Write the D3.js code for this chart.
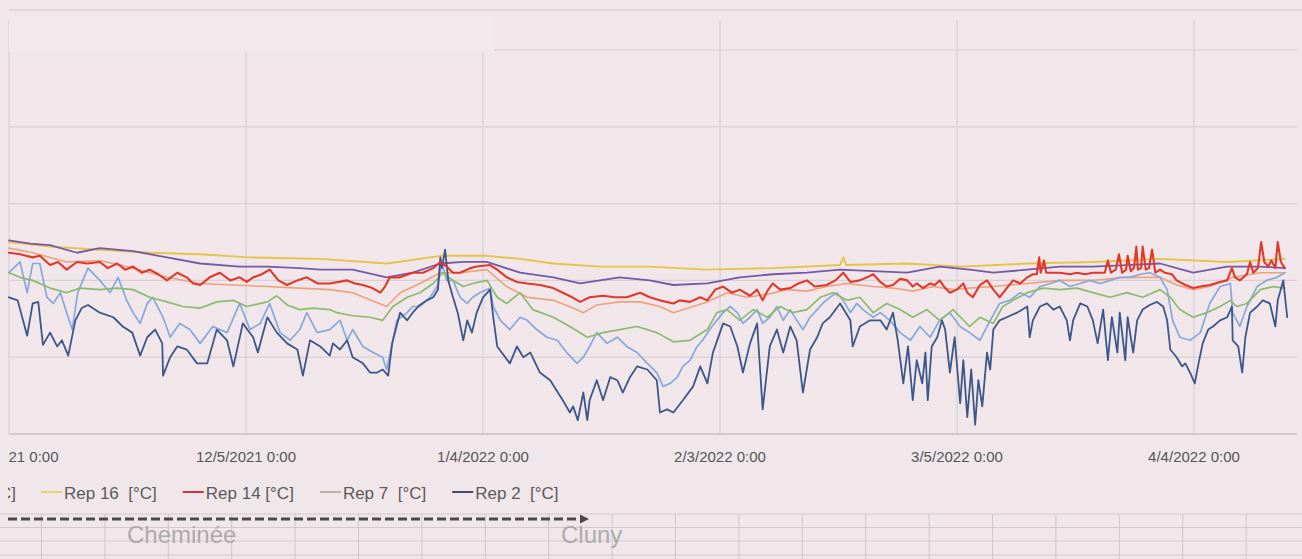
<!DOCTYPE html>
<html><head><meta charset="utf-8">
<script src="https://cdn.jsdelivr.net/npm/d3@7"></script>
<style>html,body{margin:0;padding:0;background:#f1e7eb;overflow:hidden}svg{display:block}text{white-space:pre}</style>
</head><body><svg id="c" width="1302" height="559"></svg>
<script>
// ---------- DATA ----------
const startDay = "2021-11-05";
const tickDates = ["2021-11-05","2021-12-05","2022-01-04","2022-02-03","2022-03-05","2022-04-04"];
const tickLabels = ["11/5/2021 0:00","12/5/2021 0:00","1/4/2022 0:00","2/3/2022 0:00","3/5/2022 0:00","4/4/2022 0:00"];
const yTicks = [0,5,10,15,20,25];
const legendNames = ["Rep 16  [°C]","Rep 14 [°C]","Rep 7  [°C]","Rep 2  [°C]"];
const footLabels = ["Cheminée","Cluny"];

// [days since 2021-11-05, °C]
const rep16 = [[0,12.5],[5.2,12.2],[11.5,12.0],[17.8,11.8],[24.2,11.7],[30.5,11.5],[39.4,11.4],[47.8,11.1],[52.0,11.4],[54.6,11.6],[60.5,11.6],[64.7,11.4],[68.9,11.1],[74.8,10.9],[81.1,10.9],[88.4,10.7],[96.7,10.8],[105.2,11.0],[105.6,11.5],[106.0,11.0],[113.7,11.1],[120.4,10.9],[128.9,11.1],[137.2,11.2],[145.7,11.4],[154.2,11.2],[161.5,11.4]];

const seriesPurple = [[0,12.6],[2.7,12.4],[5.2,12.3],[8.6,11.8],[11.5,12.1],[15.7,11.9],[20.0,11.5],[24.2,11.1],[29.2,10.9],[32.7,10.9],[36.8,10.8],[39.4,10.7],[43.5,10.7],[47.8,10.2],[51.1,10.5],[54.6,11.1],[57.5,11.2],[60.5,11.2],[64.7,10.5],[68.9,10.2],[72.3,9.8],[77.3,10.2],[81.1,10.0],[84.1,9.7],[88.4,9.8],[92.5,10.2],[96.7,10.4],[101.0,10.5],[105.2,10.7],[109.4,10.6],[113.7,10.5],[117.8,10.9],[121.6,10.7],[124.6,10.5],[128.9,10.7],[133.0,10.9],[137.2,10.9],[141.5,11.0],[145.7,11.1],[147.8,10.8],[149.9,10.5],[154.2,10.9],[158.4,10.9],[161.5,10.8]];

const seriesOrange = [[0,12.1],[3.0,11.8],[7.3,11.2],[11.5,11.3],[15.7,10.8],[20.0,10.2],[24.2,9.8],[28.4,9.7],[32.7,9.6],[36.8,9.5],[40.6,9.4],[43.5,9.2],[47.8,8.3],[49.5,9.2],[52.0,9.8],[54.6,10.5],[57.1,10.5],[60.5,10.7],[63.0,9.6],[65.6,8.9],[68.9,8.7],[71.4,8.2],[72.7,7.9],[74.4,8.4],[77.3,8.6],[79.9,8.6],[82.4,8.3],[84.1,7.9],[86.6,8.3],[88.4,8.6],[90.9,9.2],[93.4,8.9],[96.0,9.1],[98.5,9.4],[101.0,9.3],[103.5,9.6],[106.1,9.8],[109.4,9.6],[111.9,9.5],[114.4,9.3],[117.0,9.6],[119.5,9.4],[121.6,9.5],[124.6,9.6],[128.9,9.8],[133.0,10.0],[137.2,10.0],[141.5,10.2],[145.7,10.2],[147.8,9.7],[149.9,9.4],[152.0,9.6],[154.9,10.2],[158.4,10.5],[161.5,10.5]];

const rep14 = [[0,11.8],[1.4,11.7],[3.0,11.5],[3.9,11.6],[5.2,11.0],[6.2,11.2],[7.3,10.7],[8.6,11.2],[9.9,11.1],[11.5,11.2],[12.5,10.8],[13.7,11.1],[14.7,10.7],[15.7,10.9],[16.8,10.5],[17.8,10.7],[18.9,10.4],[20.0,10.0],[21.3,10.5],[22.5,10.2],[23.3,9.8],[24.2,9.7],[25.4,10.2],[26.7,10.5],[28.0,10.0],[29.2,10.2],[30.1,9.9],[30.9,10.2],[32.0,10.4],[33.0,10.7],[34.1,10.0],[35.2,9.7],[36.5,10.0],[37.7,10.2],[39.1,9.8],[40.6,9.8],[42.8,10.0],[43.8,9.8],[44.8,9.7],[46.0,9.5],[47.0,9.2],[47.6,9.6],[48.2,10.2],[49.5,10.2],[51.1,10.5],[52.4,10.5],[53.7,10.8],[54.6,11.2],[55.4,10.9],[56.2,10.5],[57.1,10.5],[58.4,10.8],[59.2,10.9],[60.9,11.0],[61.8,10.7],[63.0,10.2],[64.3,9.9],[65.6,9.8],[67.2,9.7],[68.9,9.5],[70.1,9.2],[71.3,8.9],[72.3,8.6],[73.5,8.9],[75.2,9.0],[76.7,8.9],[78.2,8.9],[79.9,9.2],[81.1,8.9],[82.4,8.7],[84.1,8.5],[84.9,8.7],[86.2,8.6],[87.5,8.9],[88.4,8.7],[89.4,9.4],[90.4,9.6],[91.5,9.2],[92.5,9.4],[93.8,9.0],[94.7,9.4],[95.4,8.7],[96.1,9.4],[96.7,9.8],[97.6,9.4],[98.9,9.5],[99.9,9.8],[101.0,10.0],[102.0,9.6],[103.5,9.7],[104.6,10.0],[105.6,10.5],[106.5,9.9],[107.7,10.0],[108.6,10.2],[109.4,10.4],[110.3,9.9],[111.1,9.6],[111.9,9.7],[112.8,10.1],[113.7,10.0],[114.4,9.6],[114.9,9.8],[115.7,9.5],[116.6,9.8],[117.2,9.7],[117.8,10.0],[118.5,9.5],[119.1,9.2],[120.0,9.4],[120.8,9.8],[121.3,9.2],[122.0,8.9],[122.9,9.7],[123.8,10.0],[124.6,9.4],[125.4,8.9],[126.3,9.5],[127.1,10.0],[128.0,9.8],[128.9,10.2],[129.6,10.4],[130.1,10.4],[130.4,11.5],[130.6,10.5],[131.0,11.3],[131.3,10.5],[132.2,10.5],[133.0,10.5],[134.3,10.4],[135.2,10.5],[136.2,10.4],[137.2,10.5],[138.1,10.5],[138.7,10.5],[139.1,11.3],[139.5,10.5],[140.1,10.7],[140.5,11.7],[140.9,10.5],[141.4,10.7],[141.6,11.6],[142.0,10.6],[142.4,10.8],[142.7,12.2],[142.9,10.7],[143.3,10.8],[143.5,12.2],[143.9,10.7],[144.3,10.8],[144.7,12.0],[145.1,10.5],[145.7,10.7],[146.3,10.5],[147.2,10.4],[147.8,10.0],[148.9,9.7],[149.9,9.5],[150.8,9.6],[152.0,9.7],[153.3,9.9],[154.2,10.0],[154.8,10.8],[155.2,10.2],[155.8,10.0],[156.7,10.4],[157.1,11.2],[157.5,10.5],[158.1,10.8],[158.5,12.5],[158.9,11.2],[159.4,10.9],[159.8,11.3],[160.3,10.8],[160.6,12.5],[161.0,11.2],[161.5,10.8]];

const rep7 = [[0,10.5],[1.4,10.2],[3.0,10.0],[5.2,9.5],[7.3,9.2],[9.0,9.5],[11.5,9.4],[13.7,9.5],[15.7,9.4],[17.8,8.9],[20.0,8.6],[22.0,8.3],[24.2,8.2],[26.3,8.6],[28.4,8.7],[30.1,8.3],[32.7,8.6],[33.9,9.0],[35.2,8.4],[36.8,8.1],[38.5,8.2],[40.6,8.1],[41.5,7.9],[43.5,7.7],[45.7,7.6],[47.3,7.4],[48.6,8.3],[50.4,8.9],[52.0,9.2],[53.7,9.8],[54.9,10.5],[56.2,10.0],[57.5,9.6],[58.7,9.8],[60.5,10.0],[61.8,8.9],[63.0,8.5],[64.7,9.2],[66.3,8.1],[68.9,7.6],[71.0,7.0],[73.2,6.3],[75.2,6.6],[77.3,6.8],[79.5,7.0],[82.0,6.6],[84.1,6.0],[86.2,6.1],[88.4,6.8],[89.6,7.9],[90.9,8.1],[92.5,7.4],[94.2,8.1],[96.0,7.6],[97.6,8.3],[99.2,7.9],[101.0,8.1],[102.7,8.9],[104.3,9.2],[106.1,8.7],[107.7,8.9],[109.4,7.9],[111.1,8.5],[112.8,8.1],[114.4,7.6],[116.2,8.1],[117.8,7.4],[119.5,8.1],[121.6,7.0],[122.9,7.6],[124.6,7.2],[125.8,8.3],[127.1,8.7],[128.9,9.2],[130.9,9.5],[133.0,9.4],[135.2,9.5],[137.2,9.2],[139.4,8.9],[141.5,9.2],[143.5,8.9],[145.7,9.4],[147.0,8.9],[148.2,8.1],[149.9,7.6],[151.6,7.9],[153.3,8.3],[154.6,8.7],[155.4,8.3],[156.7,8.5],[158.4,9.4],[160.0,9.6],[161.5,9.5]];

const seriesLightBlue = [[0,10.5],[1.4,11.2],[2.3,9.2],[3.0,11.1],[3.9,11.1],[4.8,8.9],[5.6,8.5],[6.5,9.2],[7.3,7.9],[8.0,6.8],[8.7,9.2],[10.0,10.8],[11.5,10.0],[12.8,9.2],[13.8,10.2],[14.9,8.7],[15.7,7.9],[16.6,7.2],[17.5,8.5],[18.2,8.9],[19.5,7.6],[20.4,6.3],[21.6,7.2],[22.9,6.8],[24.2,5.9],[25.8,7.0],[27.6,6.6],[29.2,8.5],[30.5,6.8],[31.8,7.2],[33.0,8.5],[34.3,6.6],[35.6,6.1],[36.8,6.8],[37.7,7.9],[39.0,6.6],[40.6,6.8],[41.9,7.4],[42.8,6.1],[43.5,6.8],[44.8,5.7],[46.1,5.3],[47.3,5.0],[47.8,4.2],[48.5,5.9],[49.1,7.4],[50.4,7.9],[51.1,8.3],[52.0,8.3],[53.3,8.9],[54.2,9.6],[54.8,11.1],[55.4,10.0],[56.2,10.0],[57.1,8.9],[58.0,8.5],[58.7,8.9],[59.6,9.2],[60.9,9.5],[61.3,8.3],[62.2,7.4],[63.4,6.8],[64.7,7.6],[65.6,7.4],[66.8,6.8],[68.1,6.3],[69.4,6.1],[70.6,5.3],[71.9,4.6],[72.7,5.0],[73.5,5.7],[74.4,6.6],[75.7,5.9],[77.0,6.3],[78.2,5.7],[79.5,5.3],[80.8,4.6],[82.0,4.0],[82.8,3.1],[83.7,3.3],[84.6,3.7],[85.3,4.4],[86.2,4.8],[87.1,5.7],[87.8,6.1],[88.7,6.8],[89.6,7.4],[90.4,7.9],[91.3,8.3],[92.2,7.9],[92.9,7.2],[93.8,7.6],[94.7,8.1],[95.4,7.2],[96.3,7.6],[97.2,8.3],[98.0,7.4],[98.9,8.1],[99.7,7.4],[100.5,6.8],[101.4,7.6],[102.3,8.1],[103.0,8.5],[103.9,8.9],[104.8,9.2],[105.6,8.7],[106.5,7.9],[107.3,8.5],[108.1,8.1],[109.4,7.6],[110.3,7.9],[111.5,7.4],[112.8,6.6],[114.1,6.1],[115.3,7.0],[116.6,6.3],[117.8,7.4],[119.1,7.9],[120.4,7.0],[121.6,6.6],[122.9,6.1],[124.2,7.4],[125.4,8.5],[126.7,8.7],[128.0,9.2],[129.2,8.9],[130.5,9.6],[131.8,9.8],[133.0,10.0],[134.3,9.6],[135.6,9.8],[136.8,10.0],[138.1,9.8],[139.4,10.0],[140.6,10.2],[141.9,10.2],[143.2,10.4],[144.4,10.5],[145.7,10.2],[146.6,9.4],[147.3,7.4],[148.2,6.3],[149.5,6.1],[150.8,6.6],[152.0,8.5],[153.3,9.6],[154.6,9.8],[154.9,7.9],[155.8,7.0],[156.7,8.3],[158.0,9.6],[159.2,10.0],[160.5,10.2],[161.5,10.5]];

const rep2 = [[0,8.9],[1.1,8.7],[2.3,6.4],[3.0,8.5],[3.7,8.6],[4.3,5.8],[5.2,6.6],[6.1,5.7],[6.7,6.1],[7.5,5.1],[8.4,7.4],[9.2,8.2],[10.0,8.4],[11.5,7.9],[13.2,7.6],[14.4,7.0],[15.6,6.6],[16.6,5.1],[17.5,6.3],[18.5,6.8],[19.4,5.9],[19.5,3.8],[20.4,5.0],[21.3,5.7],[22.5,5.5],[23.8,4.6],[25.1,4.6],[26.3,6.8],[27.6,6.1],[28.4,4.4],[29.6,7.2],[30.9,6.3],[31.5,5.3],[32.7,7.6],[33.9,6.6],[35.2,5.9],[36.5,5.5],[37.2,3.8],[38.1,6.1],[39.4,5.7],[40.6,5.1],[41.0,5.9],[41.9,5.5],[42.8,6.1],[43.5,5.0],[44.8,4.6],[45.7,4.0],[46.6,4.0],[47.3,4.2],[48.0,3.8],[48.5,5.9],[49.5,7.9],[50.4,7.4],[51.1,7.9],[52.0,8.4],[52.9,8.7],[53.7,8.9],[54.3,9.4],[54.6,11.5],[54.8,10.8],[55.2,12.0],[55.6,10.0],[56.2,8.9],[56.8,7.9],[57.5,6.1],[58.0,7.4],[58.6,6.6],[59.2,7.9],[60.0,8.9],[60.9,9.4],[61.3,7.6],[61.8,5.7],[63.4,4.6],[64.3,5.7],[65.1,5.0],[66.0,5.3],[67.2,4.0],[68.5,3.5],[70.1,2.2],[71.0,1.4],[71.4,1.8],[72.0,0.9],[72.7,2.7],[73.2,0.9],[73.5,2.2],[74.4,3.5],[75.2,2.2],[76.1,3.7],[77.0,3.5],[77.7,2.7],[78.6,3.7],[79.5,4.4],[80.8,4.2],[82.0,3.5],[82.4,1.4],[83.3,1.6],[84.1,1.4],[85.3,2.2],[86.6,3.1],[87.5,4.4],[88.4,3.3],[89.1,5.3],[90.4,7.2],[91.3,7.0],[92.2,5.7],[92.9,4.0],[93.8,5.9],[94.7,7.2],[95.4,1.6],[96.3,5.7],[97.2,6.8],[98.0,5.3],[98.9,7.0],[99.7,6.1],[100.5,2.7],[101.4,5.5],[102.3,6.3],[103.0,7.2],[103.9,7.6],[105.2,8.5],[106.5,7.4],[106.8,5.7],[107.7,7.0],[109.0,7.4],[110.3,7.4],[111.1,6.8],[111.9,7.9],[112.5,6.1],[113.2,3.3],[113.8,5.7],[114.4,2.2],[114.9,4.8],[115.6,3.3],[116.0,5.3],[116.3,2.2],[116.8,5.7],[117.5,6.3],[118.1,7.4],[118.5,6.8],[119.1,4.0],[119.7,6.3],[120.4,2.0],[120.8,4.8],[121.3,1.1],[121.8,4.2],[122.3,0.6],[122.7,3.5],[123.2,1.8],[123.8,5.3],[124.2,4.2],[124.6,6.8],[125.4,7.4],[126.3,7.6],[127.6,7.9],[128.9,8.3],[129.2,6.3],[129.6,7.4],[130.5,8.3],[131.4,8.5],[132.2,8.1],[133.0,8.3],[133.9,7.4],[134.3,6.1],[134.7,7.4],[135.6,8.5],[136.5,8.3],[137.2,7.4],[137.8,5.9],[138.5,8.1],[139.1,4.8],[139.6,7.6],[140.3,5.3],[140.6,7.9],[141.3,4.8],[141.6,7.6],[142.3,5.3],[142.8,7.4],[143.5,8.1],[144.4,8.4],[145.3,8.6],[146.1,8.3],[146.6,7.4],[147.0,5.5],[147.8,5.0],[148.5,4.4],[148.9,4.6],[149.5,4.0],[150.1,3.3],[150.5,4.4],[151.1,5.9],[151.8,6.8],[152.4,7.0],[153.3,7.4],[154.2,7.6],[154.8,8.3],[154.9,6.1],[155.6,5.7],[156.1,4.0],[156.5,6.3],[157.1,7.9],[158.0,8.3],[158.7,8.7],[159.6,8.5],[160.3,7.0],[160.6,8.7],[161.3,10.0],[161.8,7.6]];

// ---------- CHART ----------
const W = 1302, H = 559;
const plotLeft = 9, plotRight = 1297, plotTop = 20, plotBottom = 434;
const svg = d3.select("#c");
svg.append("rect").attr("width",W).attr("height",H).attr("fill","#f1e7eb");
svg.append("defs").append("clipPath").attr("id","frame")
  .append("rect").attr("x",8).attr("y",0).attr("width",W-8).attr("height",H);

const parse = d3.utcParse("%Y-%m-%d");
const t0 = parse(startDay);
const toDate = d => new Date(t0.getTime() + d*864e5);
const tickD = tickDates.map(parse);

const x = d3.scaleUtc().domain([tickD[0], tickD[5]]).range([plotLeft, 1194]);
const y = d3.scaleLinear().domain([0,25]).range([plotBottom, 50]);

// top frame line
svg.append("line").attr("x1",plotLeft).attr("x2",W).attr("y1",10).attr("y2",10)
  .attr("stroke","#dad0d4").attr("stroke-width",1.5);

// vertical gridlines
svg.append("g").selectAll("line").data(tickD).join("line")
  .attr("x1",d=>x(d)).attr("x2",d=>x(d)).attr("y1",plotTop).attr("y2",plotBottom)
  .attr("stroke","#d9d0d4").attr("stroke-width",1.2);
// horizontal gridlines
svg.append("g").selectAll("line").data(yTicks.filter(v=>v>0)).join("line")
  .attr("x1",plotLeft).attr("x2",plotRight).attr("y1",d=>y(d)).attr("y2",d=>y(d))
  .attr("stroke","#d9d0d4").attr("stroke-width",1.2);
// title box covering the top-left (almost same tint as background)
svg.append("rect").attr("x",plotLeft).attr("y",16).attr("width",485).attr("height",36).attr("fill","#f2e9ec");
// bottom axis
svg.append("line").attr("x1",plotLeft).attr("x2",plotRight).attr("y1",y(0)).attr("y2",y(0))
  .attr("stroke","#d3c9cd").attr("stroke-width",2);

// x tick labels (clipped at the left frame like the reference)
svg.append("g").attr("clip-path","url(#frame)").selectAll("text").data(tickD).join("text")
  .attr("x",d=>x(d)).attr("y",462).attr("text-anchor","middle")
  .attr("font-family","'Liberation Sans',Arial,sans-serif").attr("font-size",15)
  .attr("fill","#555").text((d,i)=>tickLabels[i]);

// series
const series = [
  {values:seriesOrange, color:"#eea27c", w:1.6},
  {values:rep16, color:"#e6c445", w:1.9},
  {values:seriesPurple, color:"#7359a8", w:1.8},
  {values:seriesLightBlue, color:"#86a8dc", w:1.7},
  {values:rep7, color:"#8cba6e", w:1.7},
  {values:rep2, color:"#3d5689", w:1.8},
  {values:rep14, color:"#e2382b", w:2.1}
];
const line = d3.line().x(d=>x(toDate(d[0]))).y(d=>y(d[1]));
svg.append("g").selectAll("path").data(series).join("path")
  .attr("d",s=>line(s.values)).attr("fill","none")
  .attr("stroke",s=>s.color).attr("stroke-width",s=>s.w)
  .attr("stroke-linejoin","round").attr("stroke-linecap","round");

// legend
const legendColors = ["#e6d66a","#cc3344","#b9b3a8","#3f4d6e"];
const lg = svg.append("g").attr("clip-path","url(#frame)")
  .attr("font-family","'Liberation Sans',Arial,sans-serif").attr("font-size",17).attr("fill","#5a5a5a");
lg.append("text").attr("x",16).attr("y",499).attr("text-anchor","end").text("[°C]");
let lx = 41;
legendNames.forEach((n,i)=>{
  lg.append("line").attr("x1",lx).attr("x2",lx+21).attr("y1",492).attr("y2",492)
    .attr("stroke",legendColors[i]).attr("stroke-width",2);
  const t = lg.append("text").attr("x",lx+23).attr("y",499).attr("xml:space","preserve").text(n);
  lx += 23 + t.node().getComputedTextLength() + 26;
});

// spreadsheet grid below
const gridRows = [514,527.5,541,555];
const gridCols = d3.range(0,21).map(k=>41.5+63.4*k);
svg.append("g").selectAll("line").data(gridRows).join("line")
  .attr("x1",0).attr("x2",W).attr("y1",d=>d).attr("y2",d=>d)
  .attr("stroke","#d2c9cd").attr("stroke-width",1);
svg.append("g").selectAll("line").data(gridCols).join("line")
  .attr("x1",d=>d).attr("x2",d=>d).attr("y1",514).attr("y2",H)
  .attr("stroke","#cfc6ca").attr("stroke-width",1);

// dashed arrow
svg.append("line").attr("x1",8).attr("x2",582).attr("y1",519).attr("y2",519)
  .attr("stroke","#4a4a4a").attr("stroke-width",2.8).attr("stroke-dasharray","9,4");
svg.append("path").attr("d","M580,514.5 L589,519 L580,523.5 Z").attr("fill","#4a4a4a");

// foot labels
svg.append("text").attr("x",127).attr("y",543).attr("font-family","'Liberation Sans',Arial,sans-serif")
  .attr("font-size",24).attr("fill","#ababab").text(footLabels[0]);
svg.append("text").attr("x",561).attr("y",543).attr("font-family","'Liberation Sans',Arial,sans-serif")
  .attr("font-size",24).attr("fill","#ababab").text(footLabels[1]);
</script></body></html>
